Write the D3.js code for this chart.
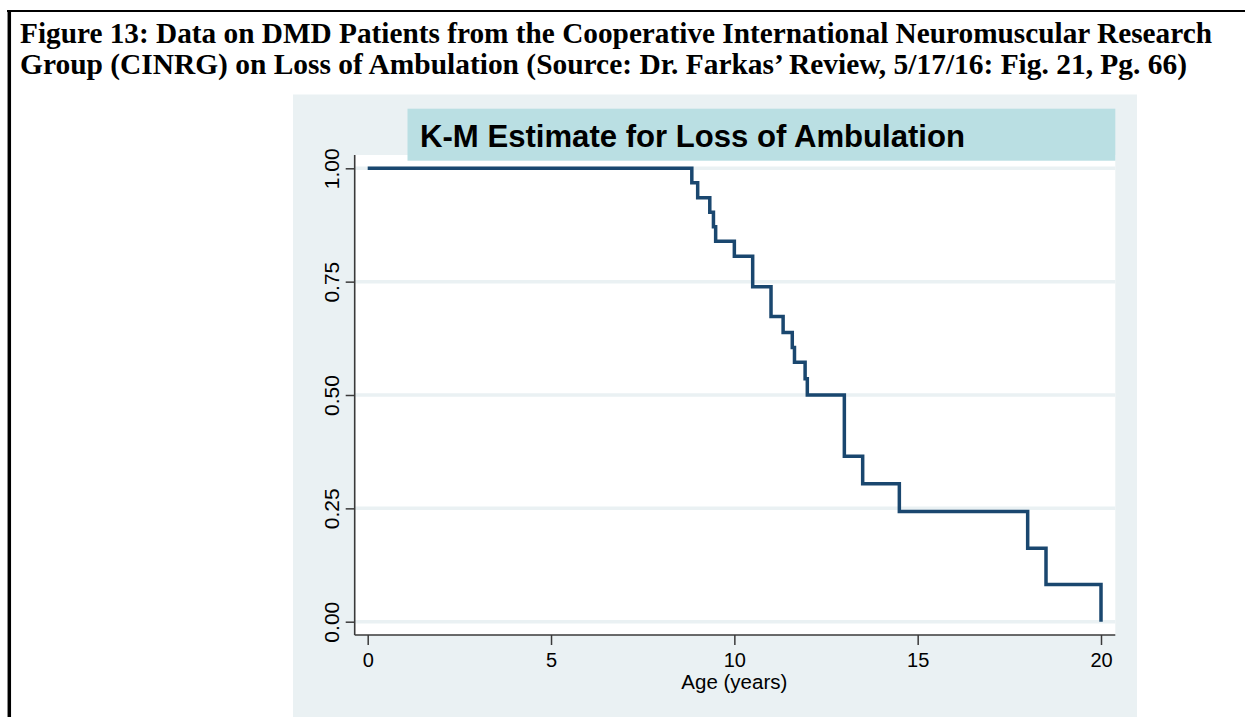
<!DOCTYPE html>
<html>
<head>
<meta charset="utf-8">
<script src="https://cdn.jsdelivr.net/npm/d3@7"></script>
<style>
  html, body { margin: 0; padding: 0; background: #ffffff; }
  svg { display: block; }
</style>
</head>
<body>
<svg id="chart" width="1245" height="717"></svg>
<script>
// ---- Data ----
const figureTitle = [
  "Figure 13: Data on DMD Patients from the Cooperative International Neuromuscular Research",
  "Group (CINRG) on Loss of Ambulation (Source: Dr. Farkas\u2019 Review, 5/17/16: Fig. 21, Pg. 66)"
];
const chartTitle = "K-M Estimate for Loss of Ambulation";
const xAxisTitle = "Age (years)";
const xTicks = [0, 5, 10, 15, 20];
const yTicks = [0, 0.25, 0.5, 0.75, 1];
// Kaplan-Meier step function: age at which survival drops, and new survival value
const eventAges = [8.84, 9.0, 9.33, 9.43, 9.49, 10.0, 10.5, 11.0, 11.33, 11.58, 11.64, 11.93, 11.99, 13.0, 13.5, 14.5, 18.0, 18.5, 20.0];
const survival  = [0.968, 0.935, 0.903, 0.871, 0.839, 0.806, 0.739, 0.673, 0.638, 0.605, 0.572, 0.536, 0.5, 0.365, 0.304, 0.243, 0.162, 0.082, 0];
const startAge = 0, startSurvival = 1;

// ---- Drawing ----
const svg = d3.select("#chart");

// page frame lines
svg.append("line").attr("x1", 7).attr("x2", 1245).attr("y1", 11).attr("y2", 11)
  .attr("stroke", "#000").attr("stroke-width", 2);
svg.append("line").attr("x1", 9.3).attr("x2", 9.3).attr("y1", 10).attr("y2", 717)
  .attr("stroke", "#000").attr("stroke-width", 3.5);

// figure title (serif bold)
const titleLines = [
  { text: figureTitle[0], y: 43, len: 1192 },
  { text: figureTitle[1], y: 74, len: 1167 }
];
svg.selectAll("text.figtitle").data(titleLines).enter().append("text")
  .attr("class", "figtitle")
  .attr("x", 20).attr("y", d => d.y)
  .attr("font-family", "'Liberation Serif', 'Times New Roman', serif")
  .attr("font-weight", "bold").attr("font-size", 28.5)
  .attr("textLength", d => d.len).attr("lengthAdjust", "spacingAndGlyphs")
  .attr("fill", "#000")
  .text(d => d.text);

// chart panel background
svg.append("rect").attr("x", 293).attr("y", 94.5).attr("width", 844).attr("height", 717 - 94.5)
  .attr("fill", "#EAF1F3");

// plot region
const plot = { left: 354.7, right: 1115.3, top: 155, bottom: 635 };
svg.append("rect").attr("x", plot.left).attr("y", plot.top)
  .attr("width", plot.right - plot.left).attr("height", plot.bottom - plot.top)
  .attr("fill", "#ffffff");

const x = d3.scaleLinear().domain([0, 20]).range([367.7, 1101]);
const y = d3.scaleLinear().domain([0, 1]).range([621.7, 168.3]);

// gridlines
svg.append("g").selectAll("line").data(yTicks).enter().append("line")
  .attr("x1", plot.left).attr("x2", plot.right)
  .attr("y1", d => y(d)).attr("y2", d => y(d))
  .attr("stroke", "#EAF1F3").attr("stroke-width", 3.5);

// title box
svg.append("rect").attr("x", 407.5).attr("y", 108.7).attr("width", plot.right - 407.5).attr("height", 52)
  .attr("fill", "#BADFE3");
svg.append("text").attr("x", 420).attr("y", 147)
  .attr("font-family", "Arial, 'Liberation Sans', sans-serif")
  .attr("font-weight", "bold").attr("font-size", 31)
  .attr("textLength", 545).attr("lengthAdjust", "spacingAndGlyphs")
  .attr("fill", "#000")
  .text(chartTitle);

// KM step line
const pts = [[startAge, startSurvival]].concat(eventAges.map((a, i) => [a, survival[i]]));
const line = d3.line().x(d => x(d[0])).y(d => y(d[1])).curve(d3.curveStepAfter);
svg.append("path").datum(pts)
  .attr("d", line)
  .attr("fill", "none").attr("stroke", "#1A476F").attr("stroke-width", 3.5)
  .attr("stroke-linejoin", "miter").attr("stroke-linecap", "butt");

// axes
const axisColor = "#3a3a3a";
const xAxis = d3.axisBottom(x).tickValues(xTicks).tickFormat(d3.format("d")).tickSize(10).tickSizeOuter(0);
const gx = svg.append("g").attr("transform", `translate(0,${plot.bottom})`).call(xAxis);
gx.select(".domain").remove();
gx.selectAll(".tick line").attr("stroke", axisColor).attr("stroke-width", 1.5);
gx.selectAll(".tick text").attr("font-family", "Arial, 'Liberation Sans', sans-serif")
  .attr("font-size", 20).attr("fill", "#000").attr("dy", null).attr("y", 31.5);
svg.append("line").attr("x1", plot.left).attr("x2", plot.right)
  .attr("y1", plot.bottom).attr("y2", plot.bottom)
  .attr("stroke", axisColor).attr("stroke-width", 1.6);

const yAxis = d3.axisLeft(y).tickValues(yTicks).tickFormat(d3.format(".2f")).tickSize(9).tickSizeOuter(0);
const gy = svg.append("g").attr("transform", `translate(${plot.left},0)`).call(yAxis);
gy.select(".domain").remove();
gy.selectAll(".tick line").attr("stroke", axisColor).attr("stroke-width", 1.5);
gy.selectAll(".tick text")
  .attr("font-family", "Arial, 'Liberation Sans', sans-serif")
  .attr("font-size", 21).attr("fill", "#000")
  .attr("x", null).attr("dy", null)
  .attr("text-anchor", "middle")
  .attr("transform", "translate(-15.5,0) rotate(-90)")
  .attr("y", 0);
svg.append("line").attr("x1", plot.left).attr("x2", plot.left)
  .attr("y1", plot.top).attr("y2", plot.bottom)
  .attr("stroke", axisColor).attr("stroke-width", 1.6);

// x axis title
svg.append("text").attr("x", (x(0) + x(20)) / 2).attr("y", 689)
  .attr("text-anchor", "middle")
  .attr("font-family", "Arial, 'Liberation Sans', sans-serif")
  .attr("font-size", 20.5).attr("fill", "#000")
  .text(xAxisTitle);
</script>
</body>
</html>
